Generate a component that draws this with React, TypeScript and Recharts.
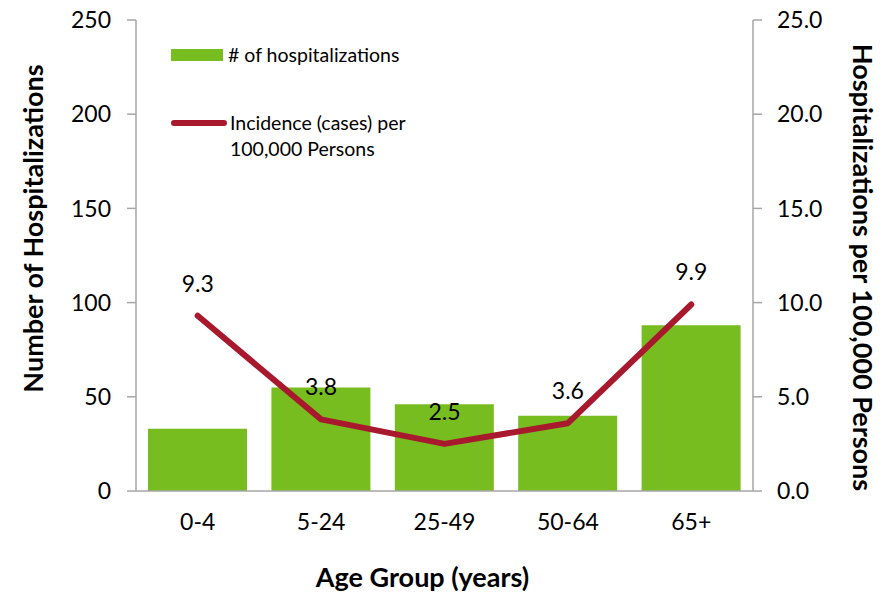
import { ComposedChart, Bar, Line, XAxis, YAxis, Legend, LabelList, Label } from 'recharts';

const ageGroups = ['0-4', '5-24', '25-49', '50-64', '65+'];
const hospitalizations = [33, 55, 46, 40, 88];
const incidence = [9.3, 3.8, 2.5, 3.6, 9.9];
const leftTicks = [0, 50, 100, 150, 200, 250];
const rightTicks = [0, 5, 10, 15, 20, 25];
const edgeTicks = [0, 1, 2, 3, 4, 5];

const data = ageGroups.map((group, i) => ({
	group,
	count: hospitalizations[i],
	rate: incidence[i],
}));

const GREEN = '#78BD20';
const RED = '#A8192E';
const AXIS = '#A6A6A6';
const FONT = 'Lato, "Open Sans", sans-serif';

const LegendBox = () => (
	<div style={{ fontFamily: FONT, fontSize: 19.5, color: '#000', lineHeight: '26px' }}>
		<div style={{ display: 'flex', alignItems: 'center' }}>
			<span style={{ display: 'inline-block', width: 52, height: 12, background: GREEN, marginRight: 5 }} />
			<span># of hospitalizations</span>
		</div>
		<div style={{ display: 'flex', alignItems: 'flex-start', marginTop: 42 }}>
			<span
				style={{
					display: 'inline-block',
					width: 56,
					height: 6,
					borderRadius: 3,
					background: RED,
					marginTop: 10,
					marginRight: 3,
				}}
			/>
			<span>
				Incidence (cases) per
				<br />
				100,000 Persons
			</span>
		</div>
	</div>
);

export default function App() {
	return (
		<div style={{ position: 'absolute', left: 0, top: 0, background: '#fff' }}>
			<ComposedChart
				width={894}
				height={592}
				data={data}
				margin={{ top: 20, right: 61, bottom: 99, left: 56 }}
				style={{ fontFamily: FONT }}
			>
				<XAxis
					dataKey="group"
					height={1}
					axisLine={{ stroke: AXIS, strokeWidth: 1.5 }}
					tickLine={false}
					tickSize={9}
					tickMargin={14}
					tick={{ fill: '#000', fontSize: 23 }}
				>
					<Label
						value="Age Group (years)"
						position="center"
						dx={-22}
						dy={86}
						style={{ fontWeight: 700, fontSize: 27, fill: '#000' }}
					/>
				</XAxis>
				<XAxis
					xAxisId="edges"
					type="number"
					domain={[0, 5]}
					ticks={edgeTicks}
					tick={false}
					axisLine={false}
					tickLine={{ stroke: AXIS, strokeWidth: 1.5 }}
					tickSize={9}
					height={1}
				/>
				<YAxis
					yAxisId="left"
					width={80}
					domain={[0, 250]}
					ticks={leftTicks}
					axisLine={{ stroke: AXIS, strokeWidth: 1.5 }}
					tickLine={{ stroke: AXIS, strokeWidth: 1.5 }}
					tickSize={9}
					tickMargin={16}
					tick={{ fill: '#000', fontSize: 23 }}
				>
					<Label
						value="Number of Hospitalizations"
						position="center"
						angle={-90}
						dx={-63}
						dy={-27}
						style={{ fontWeight: 700, fontSize: 27, fill: '#000' }}
					/>
				</YAxis>
				<YAxis
					yAxisId="right"
					orientation="right"
					width={80}
					domain={[0, 25]}
					ticks={rightTicks}
					tickFormatter={(v: number) => v.toFixed(1)}
					axisLine={{ stroke: AXIS, strokeWidth: 1.5 }}
					tickLine={{ stroke: AXIS, strokeWidth: 1.5 }}
					tickSize={9}
					tickMargin={15}
					tick={{ fill: '#000', fontSize: 23 }}
				>
					<Label
						value="Hospitalizations per 100,000 Persons"
						position="center"
						angle={90}
						dx={70}
						dy={12}
						style={{ fontWeight: 700, fontSize: 27, fill: '#000' }}
					/>
				</YAxis>
				<Legend
					layout="vertical"
					align="center"
					verticalAlign="middle"
					content={<LegendBox />}
					wrapperStyle={{ top: 42, left: 171, width: 300, height: 'auto' }}
				/>
				<Bar
					yAxisId="left"
					dataKey="count"
					name="# of hospitalizations"
					fill={GREEN}
					barSize={99}
					isAnimationActive={false}
				/>
				<Line
					yAxisId="right"
					dataKey="rate"
					name="Incidence (cases) per 100,000 Persons"
					type="linear"
					stroke={RED}
					strokeWidth={6}
					strokeLinecap="round"
					strokeLinejoin="round"
					dot={false}
					activeDot={false}
					isAnimationActive={false}
				>
					<LabelList
						dataKey="rate"
						position="top"
						offset={24}
						formatter={(v: number) => v.toFixed(1)}
						style={{ fill: '#000', fontSize: 23 }}
					/>
				</Line>
			</ComposedChart>
		</div>
	);
}
